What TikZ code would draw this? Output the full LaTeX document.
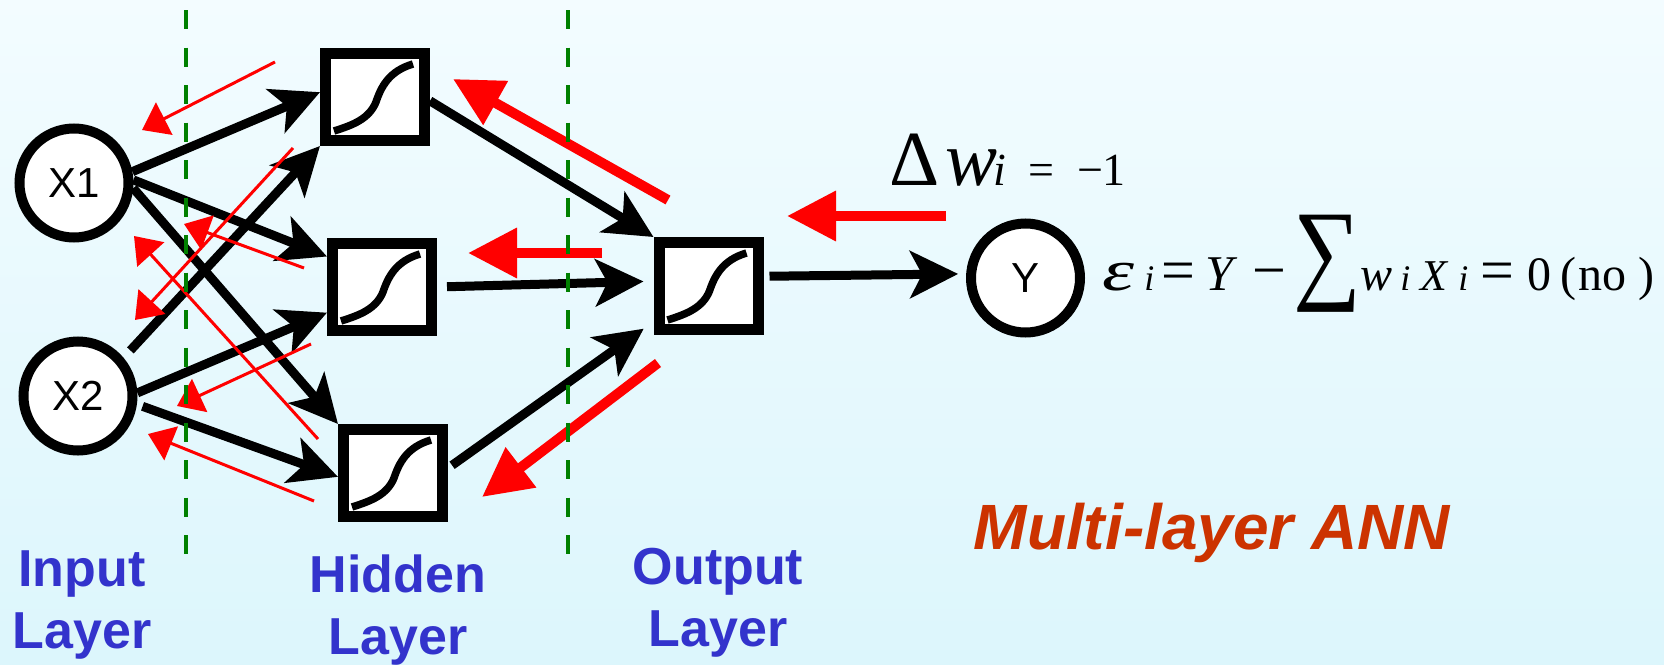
\documentclass[tikz,border=0pt]{standalone}
\usepackage{fontspec}
\usepackage{xcolor}
\usepackage{graphicx}
\usepackage{tikz}
\usetikzlibrary{arrows.meta}
\setmainfont{Liberation Sans}
\newfontfamily\timesfont{Liberation Serif}
\definecolor{BgTop}{RGB}{243,252,255}
\definecolor{BgBottom}{RGB}{220,246,252}
\definecolor{LayerBlue}{RGB}{51,51,204}
\definecolor{TitleRed}{RGB}{204,51,0}
\definecolor{GuideGreen}{RGB}{0,128,0}

\begin{document}
\begin{tikzpicture}[x=0.5pt, y=-0.5pt,
    neuron/.style={circle, draw=black, line width=5pt, fill=white, minimum size=54.5pt, inner sep=0pt, font=\fontsize{21}{21}\selectfont},
    unit/.style={rectangle, draw=black, line width=5.5pt, fill=white, minimum width=49.5pt, minimum height=43.5pt, inner sep=0pt},
    fwd/.style={line width=4.5pt, -{Stealth[length=24pt, width=23.5pt, inset=6pt]}},
    back/.style={red, line width=5pt, -{Triangle[length=24.5pt, width=24pt]}},
    backthin/.style={red, line width=1.5pt, -{Triangle[length=12.5pt, width=18pt]}},
    sig/.style={line width=3.75pt},
    guide/.style={GuideGreen, line width=2pt, dash pattern=on 9.5pt off 9.25pt},
    layer/.style={font=\fontsize{26}{31}\selectfont\bfseries, text=LayerBlue, align=center, inner sep=0pt}]
  \shade[top color=BgTop, bottom color=BgBottom] (0,0) rectangle (1664,664);
  \useasboundingbox (0,0) rectangle (1664,664);

  % neurons
  \node[neuron] (x1) at (74,183) {X1};
  \node[neuron] (x2) at (78,396) {X2};
  \node[unit] (h1) at (375,97) {};
  \node[unit] (h2) at (382,287) {};
  \node[unit] (h3) at (393,473) {};
  \node[unit] (out) at (708.5,286) {};
  \node[neuron] (y) at (1025.5,278) {Y};

  % sigmoid inside each unit
  \foreach \b in {h1,h2,h3,out}
    \draw[sig, shift={(\b.center)}] (-41,34) .. controls (-22,28) and (-6,22) .. (1,5)
      .. controls (6,-10) and (14,-26) .. (38,-33);

  % forward pass
  \draw[fwd] (x1.11) -- (h1.175);
  \draw[fwd] (x1.3) -- (h2.151);
  \draw[fwd] (x1.-5) -- (h3.north west);
  \draw[fwd, shorten <=5pt] (x2.40) -- (h1.south west);
  \draw[fwd] (x2.3) -- (h2.205);
  \draw[fwd, shorten <=3pt] (x2.-8) -- (h3.184);
  \draw[fwd] (h1.-4) -- (out.north west);
  \draw[fwd, shorten <=5pt, shorten >=5pt] (h2.east) -- (out.175);
  \draw[fwd, shorten <=2.5pt, shorten >=6pt] (h3.5) -- (out.213);
  \draw[fwd, shorten <=3pt, shorten >=4pt] (out.10) -- (y.176);

  % error fed back
  \foreach \n/\sx/\sy/\tx/\ty in {1/668/200/453/79, 2/602/253/468/253, 3/658/363/482/497, 4/946/216/787/216} {
    \coordinate (e\n-from) at (\sx,\sy);
    \coordinate (e\n-to) at (\tx,\ty);
    \draw[back] (e\n-from) -- (e\n-to);
  }
  \foreach \n/\sx/\sy/\tx/\ty in {1/275/62/142/130, 2/293/148/135/320, 3/304/268/184/224,
      4/318/439/134/236, 5/311/344/177/406, 6/314/501/148/434} {
    \coordinate (w\n-from) at (\sx,\sy);
    \coordinate (w\n-to) at (\tx,\ty);
    \draw[backthin] (w\n-from) -- (w\n-to);
  }

  % layer borders
  \foreach \x in {186,568}
    \draw[guide] (\x,10) -- (\x,554);

  % texts
  \node[layer] (inlab) at (82,605) {Input\\Layer};
  \node[layer] (hidlab) at (398,610) {Hidden\\Layer};
  \node[layer] (outlab) at (718,603) {Output\\Layer};
  \node[font=\fontsize{32}{32}\selectfont\bfseries\itshape, text=TitleRed, anchor=base, inner sep=0pt] (title) at (1212,549) {Multi-layer ANN};
  \node[anchor=base west, inner sep=0pt, font=\timesfont] (dw) at (889,185)
    {{\fontsize{39}{39}\selectfont\makebox[28pt][l]{Δ}\makebox[24pt][l]{\textit{w}}}%
     {\fontsize{23}{23}\selectfont\makebox[17.5pt][l]{\textit{i}}\makebox[24.5pt][l]{=}\makebox[12.5pt][l]{−}1}};
  \node[anchor=base west, inner sep=0pt, font=\timesfont] (err) at (1102,290)
    {{\fontsize{29}{29}\selectfont\makebox[21pt][l]{\scalebox{1.4}[1]{\textit{ε}}}}%
     {\fontsize{18}{18}\selectfont\makebox[8.5pt][l]{\textit{i}}}%
     {\fontsize{30}{30}\selectfont\makebox[22pt][l]{=}}%
     {\fontsize{25}{25}\selectfont\makebox[23.5pt][l]{\textit{Y}}}%
     {\fontsize{30}{30}\selectfont\makebox[20.5pt][l]{−}}%
     \makebox[33.5pt][l]{\raisebox{1pt}{\scalebox{0.85}[1]{\fontsize{56}{56}\selectfont ∑}}}%
     {\fontsize{24}{24}\selectfont\makebox[20pt][l]{\textit{w}}}%
     {\fontsize{18}{18}\selectfont\makebox[10pt][l]{\textit{i}}}%
     {\fontsize{22}{22}\selectfont\makebox[19pt][l]{\textit{X}}}%
     {\fontsize{18}{18}\selectfont\makebox[11pt][l]{\textit{i}}}%
     {\fontsize{30}{30}\selectfont\makebox[23.5pt][l]{=}}%
     {\fontsize{24}{24}\selectfont\makebox[16.5pt][l]{0}\makebox[9pt][l]{(}\makebox[30pt][l]{no})}};
\end{tikzpicture}
\end{document}
